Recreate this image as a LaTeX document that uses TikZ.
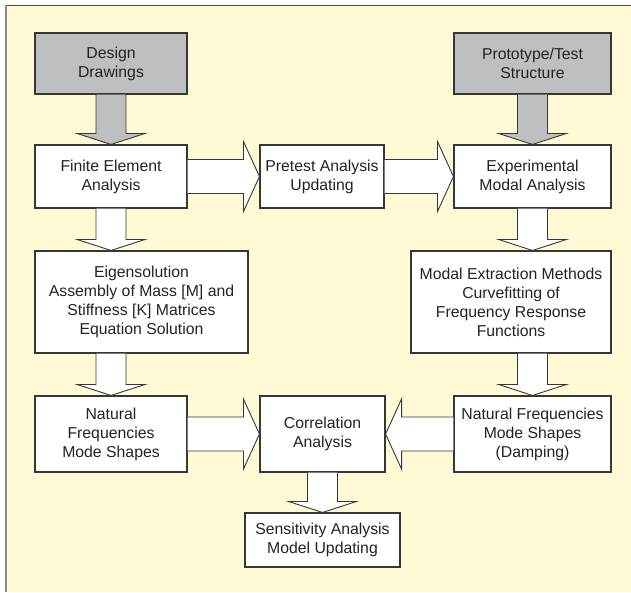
\documentclass[tikz,border=0pt]{standalone}
\usepackage{fontspec}
\setmainfont{Liberation Sans}
\usetikzlibrary{calc}
\definecolor{bgyellow}{RGB}{255,249,214}
\definecolor{boxgray}{RGB}{190,191,193}
\definecolor{linegray}{RGB}{55,55,55}
\definecolor{txtgray}{RGB}{35,35,35}
\tikzset{
  box/.style={draw=linegray, line width=1.1pt, fill=white, rectangle, inner sep=0pt,
    align=center, text=txtgray, font=\fontsize{15.8}{19}\selectfont},
  graybox/.style={box, fill=boxgray},
  blockarrow/.style={draw=linegray, line width=0.9pt, fill=white, line join=miter},
  grayarrow/.style={blockarrow, fill=boxgray},
}
% vertical block arrow: source point, target node, style
\newcommand\vblock[3]{%
  \draw[#3] ($(#1)+(-15,0)$) -- ($(#1 |- #2.north)+(-15,-11)$)
    -- ($(#1 |- #2.north)+(-34,-11)$) -- (#1 |- #2.north)
    -- ($(#1 |- #2.north)+(34,-11)$) -- ($(#1 |- #2.north)+(15,-11)$)
    -- ($(#1)+(15,0)$);}
% horizontal block arrow: source anchor, target anchor, direction (1 right, -1 left)
\newcommand\hblock[3]{%
  \draw[blockarrow] ($(#1)+(0,-17)$) -- ($(#1 -| #2)+({-16*#3},-17)$)
    -- ($(#1 -| #2)+({-16*#3},-35)$) -- (#1 -| #2)
    -- ($(#1 -| #2)+({-16*#3},35)$) -- ($(#1 -| #2)+({-16*#3},17)$)
    -- ($(#1)+(0,17)$);}
\begin{document}
\begin{tikzpicture}[x=1pt, y=-1pt]
\useasboundingbox (0,0) rectangle (631,592);
\fill[white] (0,0) rectangle (631,592);
\fill[bgyellow] (5,5) rectangle (631,592);
\draw[draw={rgb,255:red,70;green,70;blue,70}, line width=1pt] (631,5) -- (5,5);
\draw[draw={rgb,255:red,140;green,140;blue,140}, line width=2pt] (5.5,4.5) -- (5.5,592);

\node[graybox, minimum width=152pt, minimum height=61pt] (dd) at (111,63.5) {Design\\Drawings};
\node[graybox, minimum width=157pt, minimum height=61pt] (pt) at (532.5,63.5) {Prototype/Test\\Structure};
\node[box, minimum width=152pt, minimum height=63pt] (fea) at (111,176.5) {Finite Element\\Analysis};
\node[box, minimum width=124pt, minimum height=63pt] (pre) at (322,176.5) {Pretest Analysis\\Updating};
\node[box, minimum width=157pt, minimum height=63pt] (exp) at (532.5,176.5) {Experimental\\Modal Analysis};
\node[box, minimum width=213pt, minimum height=102pt] (eig) at (141.5,302) {Eigensolution\\Assembly of Mass [M] and\\Stiffness [K] Matrices\\Equation Solution};
\node[box, minimum width=200pt, minimum height=102pt] (mod) at (511,302) {Modal Extraction Methods\\Curvefitting of\\Frequency Response\\Functions};
\node[box, minimum width=152pt, minimum height=76pt] (nfl) at (111,434) {Natural\\Frequencies\\Mode Shapes};
\node[box, minimum width=125pt, minimum height=76pt] (cor) at (322.5,434) {Correlation\\Analysis};
\node[box, minimum width=157pt, minimum height=76pt] (nfr) at (532.5,434) {Natural Frequencies\\Mode Shapes\\(Damping)};
\node[box, minimum width=155pt, minimum height=54pt] (sen) at (322.5,540) {Sensitivity Analysis\\Model Updating};

\coordinate (eigout) at (eig.south -| fea.south);
\coordinate (modout) at (mod.south -| exp.south);

\vblock{dd.south}{fea}{grayarrow}
\vblock{pt.south}{exp}{grayarrow}
\vblock{fea.south}{eig}{blockarrow}
\vblock{exp.south}{mod}{blockarrow}
\vblock{eigout}{nfl}{blockarrow}
\vblock{modout}{nfr}{blockarrow}
\vblock{cor.south}{sen}{blockarrow}
\hblock{fea.east}{pre.west}{1}
\hblock{pre.east}{exp.west}{1}
\hblock{nfl.east}{cor.west}{1}
\hblock{nfr.west}{cor.east}{-1}
\end{tikzpicture}
\end{document}
